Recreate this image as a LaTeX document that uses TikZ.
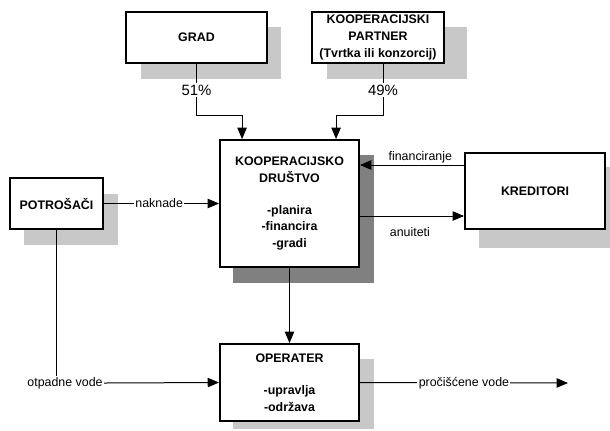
\documentclass[tikz,border=0pt]{standalone}
\usepackage{fontspec}
\setmainfont{Liberation Sans}
\usetikzlibrary{arrows.meta,calc}
\definecolor{shlight}{HTML}{C8C8C8}
\definecolor{shdark}{HTML}{808080}
\begin{document}
\begin{tikzpicture}[x=0.75pt,y=-0.75pt,
  box/.style={draw, line width=1.4pt, fill=white, align=center, inner sep=0pt,
    font=\fontsize{9.3}{12.4}\selectfont\bfseries},
  conn/.style={line width=0.75pt},
  arr/.style={conn, -{Triangle[length=8.5pt,width=7pt]}},
  lbl/.style={font=\fontsize{9.3}{11}\selectfont, fill=white, inner sep=1pt},
  pct/.style={font=\fontsize{11.2}{13}\selectfont, fill=white, inner sep=1pt},
  txt/.style={font=\fontsize{9.3}{11}\selectfont, inner sep=1pt}]
\useasboundingbox (0,0) rectangle (610,430);
% shadows
\fill[shlight] (141,27) rectangle (281,79);
\fill[shlight] (327,27) rectangle (467,79);
\fill[shlight] (24,194) rectangle (118,245);
\fill[shdark] (233,155) rectangle (374,283);
\fill[shlight] (479,167) rectangle (610,248);
\fill[shlight] (233,359) rectangle (374,429);
% boxes
\node[box, minimum width={141*0.75pt}, minimum height={51*0.75pt}] (grad) at (196.5,37.5) {GRAD};
\node[box, minimum width={132*0.75pt}, minimum height={51*0.75pt},
  font=\fontsize{9.3}{13}\selectfont\bfseries] (partner) at (378,37.5)
  {KOOPERACIJSKI\\PARTNER\\(Tvrtka ili konzorcij)};
\node[box, minimum width={93*0.75pt}, minimum height={51*0.75pt}] (potrosaci) at (56.5,203.5) {POTROŠAČI};
\node[box, minimum width={139*0.75pt}, minimum height={127*0.75pt}] (koop) at (289.5,203.5)
  {KOOPERACIJSKO\\DRUŠTVO\\[11.6pt]-planira\\-financira\\-gradi};
\node[box, minimum width={140*0.75pt}, minimum height={76*0.75pt}] (kreditori) at (535,191) {KREDITORI};
\node[box, minimum width={139*0.75pt}, minimum height={77*0.75pt}] (operater) at (289.5,382.5)
  {OPERATER\\[12.3pt]-upravlja\\-održava};
% connectors
\draw[arr] (grad.south) -- node[pct]{51\%} ++(0,52) -| ($(koop.north west)+(23,0)$);
\draw[arr] ($(partner.south)+(5,0)$) -- node[pct]{49\%} ++(0,52) -| ($(koop.north west)+(117,0)$);
\draw[arr] (potrosaci.east) -- node[lbl,pos=0.48]{naknade} (koop.west);
\draw[arr] ($(kreditori.west)+(0,-26)$) coordinate (f1) -- node[txt,above,pos=0.42]{financiranje} (koop.east |- f1);
\draw[arr] ($(koop.east)+(0,12.5)$) coordinate (a1) -- node[txt,below=7pt,pos=0.48]{anuiteti} (kreditori.west |- a1);
\draw[arr] (koop.south) -- (operater.north);
\node[txt] (otp) at (65,383) {otpadne vode};
\draw[conn] (potrosaci.south) -- (potrosaci.south |- otp.north);
\draw[arr] (otp.east) -- (operater.west);
\coordinate (out) at (568,383);
\draw[arr] (operater.east) -- node[lbl]{pročišćene vode} (out);
\end{tikzpicture}
\end{document}
